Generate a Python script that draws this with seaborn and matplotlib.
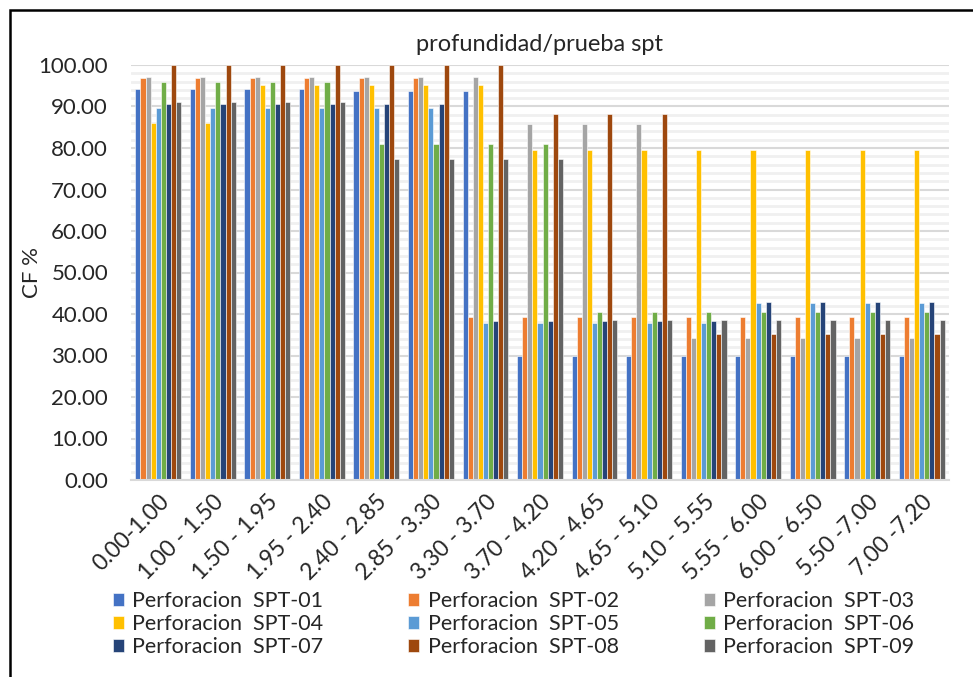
import numpy as np
import pandas as pd
import matplotlib
matplotlib.use("Agg")
import matplotlib.pyplot as plt
import seaborn as sns
from matplotlib.patches import Rectangle

# ==========================================
# DATA
# ==========================================
depths = ["0.00-1.00", "1.00 - 1.50", "1.50 - 1.95", "1.95 - 2.40", "2.40 - 2.85",
          "2.85 - 3.30", "3.30 - 3.70", "3.70 - 4.20", "4.20 - 4.65", "4.65 - 5.10",
          "5.10 - 5.55", "5.55 - 6.00", "6.00 - 6.50", "5.50 -7.00", "7.00 -7.20"]

spt01 = [94.1, 94.1, 94.1, 94.1, 93.8, 93.8, 93.8, 30.0, 30.0, 30.0, 30.0, 30.0, 30.0, 30.0, 30.0]
spt02 = [96.8, 96.8, 96.8, 96.8, 96.8, 96.8, 39.3, 39.3, 39.3, 39.3, 39.3, 39.3, 39.3, 39.3, 39.3]
spt03 = [97.2, 97.2, 97.2, 97.2, 97.2, 97.2, 97.2, 85.7, 85.7, 85.7, 34.2, 34.2, 34.2, 34.2, 34.2]
spt04 = [86.0, 86.0, 95.1, 95.1, 95.1, 95.1, 95.1, 79.6, 79.6, 79.6, 79.6, 79.6, 79.6, 79.6, 79.6]
spt05 = [89.7, 89.7, 89.7, 89.7, 89.7, 89.7, 37.9, 37.9, 37.9, 37.9, 37.9, 42.6, 42.6, 42.6, 42.6]
spt06 = [95.8, 95.8, 95.8, 95.8, 81.0, 81.0, 81.0, 81.0, 40.5, 40.5, 40.5, 40.5, 40.5, 40.5, 40.5]
spt07 = [90.6, 90.6, 90.6, 90.6, 90.6, 90.6, 38.3, 38.3, 38.3, 38.3, 38.3, 43.0, 43.0, 43.0, 43.0]
spt08 = [100.0, 100.0, 100.0, 100.0, 100.0, 100.0, 100.0, 88.3, 88.3, 88.3, 35.3, 35.3, 35.3, 35.3, 35.3]
spt09 = [91.2, 91.2, 91.2, 91.2, 77.3, 77.3, 77.3, 77.3, 38.5, 38.5, 38.5, 38.5, 38.5, 38.5, 38.5]

series_names = ["Perforacion  SPT-01", "Perforacion  SPT-02", "Perforacion  SPT-03",
                "Perforacion  SPT-04", "Perforacion  SPT-05", "Perforacion  SPT-06",
                "Perforacion  SPT-07", "Perforacion  SPT-08", "Perforacion  SPT-09"]
series_values = [spt01, spt02, spt03, spt04, spt05, spt06, spt07, spt08, spt09]

colors = ["#4472C4", "#ED7D31", "#A5A5A5", "#FFC000", "#5B9BD5",
          "#70AD47", "#264478", "#9E480E", "#636363"]

# formato largo para seaborn
df = pd.concat([
    pd.DataFrame({"depth": depths, "serie": name, "cf": vals})
    for name, vals in zip(series_names, series_values)
], ignore_index=True)

# ==========================================
# PLOT
# ==========================================
sns.set_theme(style="white")
plt.rcParams['font.family'] = ['Lato', 'DejaVu Sans']

fig = plt.figure(figsize=(9.73, 6.77), dpi=100)
ax = fig.add_axes([131 / 973, 1 - 480 / 677, (949 - 131) / 973, (480 - 65) / 677])

sns.barplot(data=df, x="depth", y="cf", hue="serie", palette=colors, saturation=1,
            width=0.84, edgecolor="white", linewidth=0.4, ax=ax, legend=True)

ax.set_ylim(0, 100)
ax.set_xlim(-0.5, len(depths) - 0.5)
ax.set_yticks(np.arange(0, 101, 10))
ax.set_yticklabels([f"{v:.2f}" for v in np.arange(0, 101, 10)], fontsize=16)
ax.set_yticks(np.arange(0, 101, 2), minor=True)
ax.set_xticks(range(len(depths)))
ax.set_xticklabels(depths, rotation=45, ha="right", rotation_mode="anchor", fontsize=16.5)
ax.tick_params(axis="x", length=0, pad=8)
ax.tick_params(axis="y", length=0, pad=16.5)
ax.tick_params(axis="y", which="minor", length=0)

ax.grid(axis="y", which="minor", color="#F0F0F0", linewidth=2.0, zorder=0)
ax.grid(axis="y", which="major", color="#D9D9D9", linewidth=1.5, zorder=0)
ax.set_axisbelow(True)

for s in ["top", "right", "left"]:
    ax.spines[s].set_visible(False)
ax.spines["bottom"].set_color("#D9D9D9")
ax.spines["bottom"].set_linewidth(1.5)

ax.set_xlabel("")
ax.set_ylabel("")
fig.text(32 / 973, 1 - 272 / 677, "CF %", fontsize=16, rotation=90, ha="center", va="center")
ax.set_title("profundidad/prueba spt", fontsize=17, pad=10)

# leyenda por filas (SPT-01, 02, 03 en la primera fila)
handles, labels = ax.get_legend_handles_labels()
ax.legend_.remove()
order = [0, 3, 6, 1, 4, 7, 2, 5, 8]
fig.legend([handles[i] for i in order], [labels[i] for i in order], ncol=3, loc="upper left",
           bbox_to_anchor=(102 / 973, 1 - 580 / 677), frameon=False,
           fontsize=15.5, handlelength=0.5, handleheight=0.55, handletextpad=0.4,
           columnspacing=3.95, labelspacing=0.15, borderpad=0)

# marco exterior
fig.patches.append(Rectangle((10 / 973, -0.1), 1.2, 1 - 10 / 677 + 0.1,
                             transform=fig.transFigure, fill=False,
                             edgecolor="black", linewidth=1.8))

fig.savefig("out.png", dpi=100)
